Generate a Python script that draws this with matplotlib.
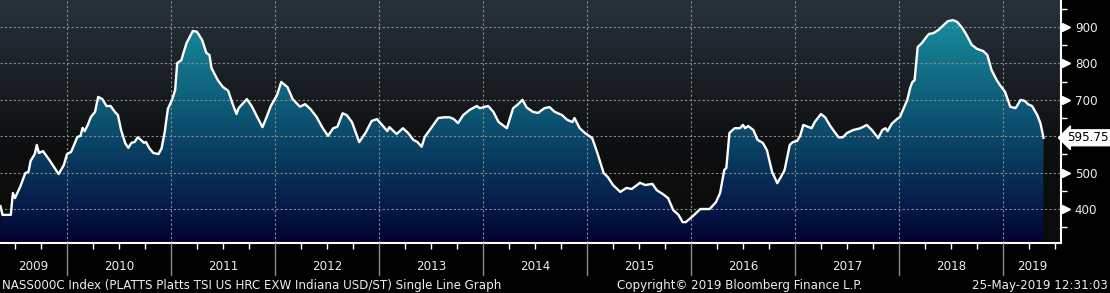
import numpy as np
import matplotlib
matplotlib.use("Agg")
import matplotlib.pyplot as plt
from matplotlib.colors import LinearSegmentedColormap
from matplotlib.patches import Polygon
import matplotlib.transforms as mtransforms

# NASS000C Index - PLATTS TSI US HRC EXW Indiana, USD/ST (decimal year, price)
dates = [2009.36, 2009.38, 2009.46, 2009.48, 2009.50, 2009.55, 2009.60, 2009.63, 2009.65, 2009.69,
         2009.71, 2009.73, 2009.77, 2009.83, 2009.92, 2009.97, 2010.00, 2010.04, 2010.10, 2010.13,
         2010.15, 2010.17, 2010.20, 2010.23, 2010.27, 2010.30, 2010.34, 2010.38, 2010.42, 2010.46,
         2010.49, 2010.52, 2010.56, 2010.59, 2010.62, 2010.65, 2010.68, 2010.71, 2010.74, 2010.76,
         2010.79, 2010.83, 2010.88, 2010.91, 2010.94, 2010.97, 2011.01, 2011.04, 2011.06, 2011.10,
         2011.12, 2011.15, 2011.21, 2011.25, 2011.30, 2011.34, 2011.37, 2011.39, 2011.45, 2011.50,
         2011.55, 2011.59, 2011.63, 2011.65, 2011.73, 2011.78, 2011.82, 2011.88, 2011.92, 2011.96,
         2012.02, 2012.06, 2012.12, 2012.17, 2012.24, 2012.29, 2012.34, 2012.40, 2012.46, 2012.51,
         2012.56, 2012.60, 2012.65, 2012.69, 2012.74, 2012.81, 2012.87, 2012.93, 2012.98, 2013.03,
         2013.08, 2013.10, 2013.13, 2013.17, 2013.23, 2013.28, 2013.33, 2013.37, 2013.41, 2013.44,
         2013.51, 2013.57, 2013.63, 2013.68, 2013.72, 2013.76, 2013.81, 2013.87, 2013.94, 2013.97,
         2014.05, 2014.10, 2014.15, 2014.23, 2014.29, 2014.33, 2014.38, 2014.42, 2014.48, 2014.53,
         2014.59, 2014.64, 2014.69, 2014.76, 2014.81, 2014.86, 2014.88, 2014.90, 2014.93, 2014.98,
         2015.05, 2015.10, 2015.16, 2015.20, 2015.25, 2015.32, 2015.38, 2015.43, 2015.51, 2015.56,
         2015.63, 2015.67, 2015.73, 2015.78, 2015.83, 2015.88, 2015.92, 2015.95, 2016.02, 2016.09,
         2016.18, 2016.24, 2016.28, 2016.32, 2016.34, 2016.37, 2016.42, 2016.47, 2016.50, 2016.52,
         2016.55, 2016.60, 2016.64, 2016.69, 2016.73, 2016.78, 2016.83, 2016.88, 2016.90, 2016.95,
         2016.98, 2017.02, 2017.05, 2017.08, 2017.16, 2017.19, 2017.25, 2017.29, 2017.34, 2017.38,
         2017.42, 2017.46, 2017.50, 2017.56, 2017.63, 2017.69, 2017.74, 2017.80, 2017.84, 2017.87,
         2017.89, 2017.93, 2017.98, 2018.01, 2018.08, 2018.11, 2018.13, 2018.15, 2018.18, 2018.22,
         2018.27, 2018.29, 2018.33, 2018.38, 2018.42, 2018.47, 2018.52, 2018.56, 2018.61, 2018.65,
         2018.70, 2018.75, 2018.81, 2018.85, 2018.89, 2018.94, 2018.97, 2019.02, 2019.07, 2019.12,
         2019.13, 2019.17, 2019.21, 2019.24, 2019.28, 2019.33, 2019.36, 2019.39]
prices = [408, 384, 384, 444, 430, 461, 499, 502, 532, 551,
          576, 554, 559, 535, 496, 521, 551, 557, 598, 601,
          623, 614, 631, 653, 667, 708, 702, 683, 683, 667,
          658, 617, 581, 568, 582, 584, 597, 590, 582, 584,
          568, 554, 551, 567, 612, 675, 700, 727, 801, 809,
          829, 856, 889, 887, 864, 829, 823, 787, 754, 735,
          725, 691, 661, 677, 702, 681, 658, 625, 653, 683,
          713, 749, 735, 702, 681, 688, 675, 653, 622, 601,
          622, 626, 663, 658, 639, 584, 609, 642, 647, 631,
          614, 625, 617, 606, 622, 609, 590, 584, 571, 598,
          626, 650, 652, 652, 647, 636, 658, 672, 683, 677,
          683, 667, 639, 622, 677, 686, 700, 679, 667, 664,
          677, 680, 667, 658, 645, 639, 650, 639, 622, 609,
          595, 554, 499, 488, 466, 447, 458, 455, 472, 466,
          469, 452, 441, 430, 397, 384, 364, 364, 381, 400,
          400, 419, 444, 507, 513, 609, 622, 622, 631, 622,
          628, 617, 590, 582, 562, 502, 471, 496, 507, 576,
          584, 587, 601, 631, 622, 639, 661, 652, 628, 612,
          597, 597, 609, 617, 622, 631, 617, 595, 617, 622,
          614, 634, 647, 653, 700, 735, 749, 754, 845, 856,
          875, 881, 883, 892, 903, 916, 919, 914, 897, 878,
          851, 840, 834, 823, 782, 754, 741, 722, 681, 677,
          681, 700, 697, 688, 683, 658, 636, 595.75]

years = list(range(2009, 2020))
y_grid = [400, 500, 600, 700, 800, 900]
y_labels = [400, 500, 700, 800, 900]
y_minor = [350, 450, 550, 650, 750, 850, 950]
last_label = "595.75"
title_text = "NASS000C Index (PLATTS Platts TSI US HRC EXW Indiana USD/ST) Single Line Graph"
copyright_text = "Copyright\u00a9 2019 Bloomberg Finance L.P."
stamp_text = "25-May-2019 12:31:03"

xmin, xmax = 2009.356, 2019.558
ymin, ymax = 306.7, 974.2
txt = "#eeeeee"
fs = 8.6

fig = plt.figure(figsize=(11.10, 2.93), dpi=100, facecolor="black")
ax = fig.add_axes([0.0, 50 / 293, 1061 / 1110, 243 / 293])
ax.set_facecolor("black")
ax.set_xlim(xmin, xmax)
ax.set_ylim(ymin, ymax)

# background gradient (slate on top, black lower down)
bg_cmap = LinearSegmentedColormap.from_list("bg", [(0, "#0b0b0b"), (0.4, "#0e0f10"), (1, "#27323c")])
grad = np.linspace(0, 1, 256).reshape(-1, 1)
ax.imshow(grad, extent=[xmin, xmax, ymin, ymax], origin="lower", aspect="auto",
          cmap=bg_cmap, zorder=0)

# gradient fill below the line
fill_cmap = LinearSegmentedColormap.from_list(
    "fill", [(0, "#02012e"), (0.15, "#051b48"), (0.45, "#0b4a6b"), (0.9, "#16899a"), (1, "#1893a3")])
fill_im = ax.imshow(grad, extent=[xmin, xmax, ymin, ymax], origin="lower", aspect="auto",
                    cmap=fill_cmap, zorder=1)
verts = [(dates[0], ymin)] + list(zip(dates, prices)) + [(dates[-1], ymin)]
poly = Polygon(verts, closed=True, facecolor="none", edgecolor="none", transform=ax.transData)
ax.add_patch(poly)
fill_im.set_clip_path(poly)

# grid
for yv in y_grid:
    ax.axhline(yv, color="#8a8a8a", lw=0.8, ls=(0, (2, 2)), zorder=2)
for yr in years[1:]:
    ax.axvline(yr, color="#8a8a8a", lw=0.8, ls=(0, (2, 2)), zorder=2)

ax.plot(dates, prices, color="white", lw=1.7, zorder=3, solid_joinstyle="round")

# spines
for s in ["left", "top"]:
    ax.spines[s].set_visible(False)
for s in ["right", "bottom"]:
    ax.spines[s].set_color("white")
    ax.spines[s].set_linewidth(1.5)

# right axis
ax.yaxis.tick_right()
ax.set_yticks(y_labels)
ax.set_yticks(y_minor, minor=True)
ax.tick_params(axis="y", which="major", length=0, pad=10, labelcolor=txt, labelsize=fs)
ax.tick_params(axis="y", which="minor", length=4, width=1, color="white")
ytr = mtransforms.blended_transform_factory(ax.transAxes, ax.transData)
ax.plot([1.0045] * len(y_labels), y_labels, ls="none", marker=">", ms=6, color="white",
        transform=ytr, clip_on=False, zorder=5)

# last value tag
ax.text(1.0055, prices[-1], last_label, transform=ytr, ha="left", va="center", fontsize=fs,
        color="black", bbox=dict(boxstyle="larrow,pad=0.12", fc="white", ec="white"), zorder=6)

# bottom axis: quarter ticks, year separators, year labels
ax.set_xticks([])
quarters = [y + q for y in years for q in (0.25, 0.5, 0.75)]
ax.set_xticks([q for q in quarters if xmin < q < xmax], minor=True)
ax.tick_params(axis="x", which="minor", length=4, width=1, color="white")
xtr = mtransforms.blended_transform_factory(ax.transData, ax.transAxes)
for yr in years[1:]:
    ax.plot([yr, yr], [0, -32 / 243], color="#8c8c8c", lw=1, transform=xtr, clip_on=False, zorder=4)
for yr in years:
    a, b = max(yr, xmin), min(yr + 1, xmax)
    ax.text((a + b) / 2, -23 / 243, str(yr), transform=xtr, ha="center", va="center",
            fontsize=fs, color=txt)

fig.text(2 / 1110, 8 / 293, title_text, ha="left", va="center", fontsize=fs, color=txt)
fig.text(617 / 1110, 8 / 293, copyright_text, ha="left", va="center", fontsize=fs, color=txt)
fig.text(1108 / 1110, 8 / 293, stamp_text, ha="right", va="center", fontsize=fs, color=txt)

fig.savefig("out.png", dpi=100, facecolor="black")
